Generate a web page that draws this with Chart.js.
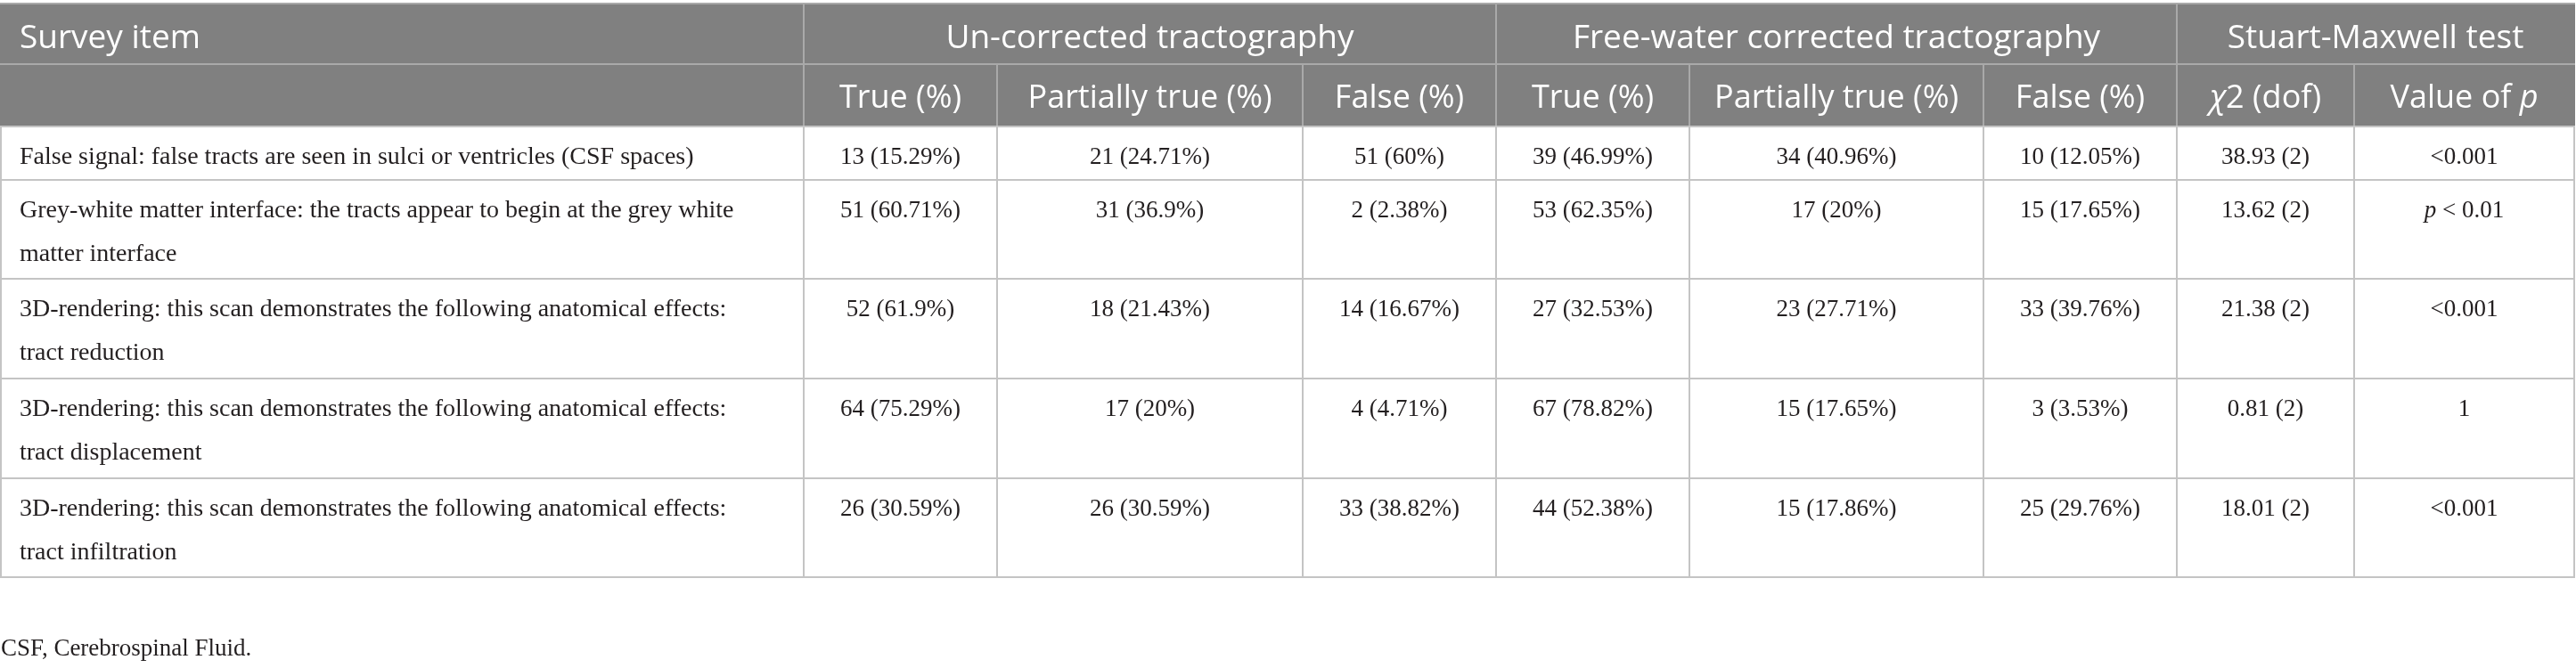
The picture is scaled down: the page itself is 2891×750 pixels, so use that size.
<!DOCTYPE html>
<html>
<head>
<meta charset="utf-8">
<script src="https://cdn.jsdelivr.net/npm/chart.js@4.4.1/dist/chart.umd.min.js"></script>
<style>
html,body{margin:0;padding:0;background:#ffffff;overflow:hidden}
#wrap{position:relative;width:2891px;height:750px}
canvas{display:block}
</style>
</head>
<body>
<div id="wrap"><canvas id="c" width="2891" height="750"></canvas></div>
<script>
// ---------- DATA ----------
const groupHeaders = ["Survey item", "Un-corrected tractography", "Free-water corrected tractography", "Stuart-Maxwell test"];
const columnHeaders = ["", "True (%)", "Partially true (%)", "False (%)", "True (%)", "Partially true (%)", "False (%)", "χ2 (dof)", "Value of p"];
const surveyItems = [
  "False signal: false tracts are seen in sulci or ventricles (CSF spaces)",
  "Grey-white matter interface: the tracts appear to begin at the grey white\nmatter interface",
  "3D-rendering: this scan demonstrates the following anatomical effects:\ntract reduction",
  "3D-rendering: this scan demonstrates the following anatomical effects:\ntract displacement",
  "3D-rendering: this scan demonstrates the following anatomical effects:\ntract infiltration"
];
const uncorrectedTrueN = [13, 51, 52, 64, 26];
const uncorrectedTruePct = [15.29, 60.71, 61.9, 75.29, 30.59];
const uncorrectedPartialN = [21, 31, 18, 17, 26];
const uncorrectedPartialPct = [24.71, 36.9, 21.43, 20, 30.59];
const uncorrectedFalseN = [51, 2, 14, 4, 33];
const uncorrectedFalsePct = [60, 2.38, 16.67, 4.71, 38.82];
const freeWaterTrueN = [39, 53, 27, 67, 44];
const freeWaterTruePct = [46.99, 62.35, 32.53, 78.82, 52.38];
const freeWaterPartialN = [34, 17, 23, 15, 15];
const freeWaterPartialPct = [40.96, 20, 27.71, 17.65, 17.86];
const freeWaterFalseN = [10, 15, 33, 3, 25];
const freeWaterFalsePct = [12.05, 17.65, 39.76, 3.53, 29.76];
const chi2Values = [38.93, 13.62, 21.38, 0.81, 18.01];
const chi2Dof = [2, 2, 2, 2, 2];
const pValues = ["<0.001", "p < 0.01", "<0.001", "1", "<0.001"];
const footnote = "CSF, Cerebrospinal Fluid.";

// ---------- LAYOUT (chart units = canvas px) ----------
const CANVAS_W = 2891, CANVAS_H = 750;
const colEdges = [0, 902, 1119, 1462, 1679, 1896, 2226, 2443, 2642, 2889];
const rowEdges = [4, 72, 142, 202, 313, 425, 537, 648];
const groupSpans = [[0, 1], [1, 4], [4, 7], [7, 9]];
const HEADER_BG = "#808080", HEADER_LINE = "#a9a9a9", BODY_LINE = "#c4c4c4";
const HEADER_TEXT = "#ffffff", BODY_TEXT = "#231f20";
const SANS = '"Open Sans"', SERIF = '"Liberation Serif"';
const GROUP_SIZE = 37, COLHEAD_SIZE = 36, ITEM_SIZE = 28, BODY_SIZE = 27, NOTE_SIZE = 27;

// build table rows from the named arrays
const fmt = (n, p) => n + " (" + p + "%)";
const bodyRows = surveyItems.map((item, i) => [
  item,
  fmt(uncorrectedTrueN[i], uncorrectedTruePct[i]),
  fmt(uncorrectedPartialN[i], uncorrectedPartialPct[i]),
  fmt(uncorrectedFalseN[i], uncorrectedFalsePct[i]),
  fmt(freeWaterTrueN[i], freeWaterTruePct[i]),
  fmt(freeWaterPartialN[i], freeWaterPartialPct[i]),
  fmt(freeWaterFalseN[i], freeWaterFalsePct[i]),
  chi2Values[i] + " (" + chi2Dof[i] + ")",
  pValues[i]
]);

// split text into runs (italic for χ and the stand-alone variable p)
function runs(text) {
  const out = [];
  for (let k = 0; k < text.length; k++) {
    const ch = text[k];
    const prev = text[k - 1] || " ", next = text[k + 1] || " ";
    const it = ch === "χ" || (ch === "p" && !/[A-Za-z]/.test(prev) && !/[A-Za-z]/.test(next));
    if (out.length && out[out.length - 1].it === it) out[out.length - 1].t += ch;
    else out.push({ t: ch, it });
  }
  return out;
}
function drawRich(ctx, text, x, y, family, size, align) {
  const rs = runs(text);
  const fontOf = r => (r.it ? "italic " : "") + size + "px " + family;
  let w = 0;
  rs.forEach(r => { ctx.font = fontOf(r); r.w = ctx.measureText(r.t).width; w += r.w; });
  let cx = align === "center" ? x - w / 2 : x;
  ctx.textAlign = "left";
  rs.forEach(r => { ctx.font = fontOf(r); ctx.fillText(r.t, cx, y); cx += r.w; });
}

const tablePlugin = {
  id: "tablePlugin",
  beforeDatasetsDraw(chart) {
    const ctx = chart.ctx;
    const xs = chart.scales.x, ys = chart.scales.y;
    const X = v => xs.getPixelForValue(v), Y = v => ys.getPixelForValue(v);
    const cx = i => X(colEdges[i]), ry = j => Y(rowEdges[j]);
    const last = colEdges.length - 1;
    ctx.save();
    ctx.textBaseline = "alphabetic";
    // header background
    ctx.fillStyle = HEADER_BG;
    ctx.fillRect(cx(0), ry(0), cx(last) + 1 - cx(0), ry(2) - ry(0));
    // header lines
    ctx.lineWidth = 2;
    ctx.strokeStyle = HEADER_LINE;
    ctx.beginPath();
    ctx.moveTo(cx(0), ry(0)); ctx.lineTo(cx(last) + 1, ry(0));
    ctx.moveTo(cx(0), ry(1)); ctx.lineTo(cx(last) + 1, ry(1));
    groupSpans.forEach((g, k) => { if (k > 0) { ctx.moveTo(cx(g[0]), ry(0)); ctx.lineTo(cx(g[0]), ry(1)); } });
    for (let i = 1; i < last; i++) { ctx.moveTo(cx(i), ry(1)); ctx.lineTo(cx(i), ry(2)); }
    ctx.stroke();
    // body lines
    ctx.strokeStyle = BODY_LINE;
    ctx.beginPath();
    for (let j = 2; j < rowEdges.length; j++) { ctx.moveTo(cx(0), ry(j)); ctx.lineTo(cx(last) + 1, ry(j)); }
    for (let i = 0; i <= last; i++) {
      const xx = i === 0 ? cx(0) + 1 : cx(i);
      ctx.moveTo(xx, ry(2)); ctx.lineTo(xx, ry(rowEdges.length - 1));
    }
    ctx.stroke();
    // group header text
    ctx.fillStyle = HEADER_TEXT;
    groupSpans.forEach((g, k) => {
      const base = ry(0) + 50;
      if (k === 0) drawRich(ctx, groupHeaders[k], cx(0) + 22, base, SANS, GROUP_SIZE, "left");
      else drawRich(ctx, groupHeaders[k], (cx(g[0]) + cx(g[1])) / 2, base, SANS, GROUP_SIZE, "center");
    });
    columnHeaders.forEach((h, i) => {
      if (!h) return;
      drawRich(ctx, h, (cx(i) + cx(i + 1)) / 2, ry(1) + 49, SANS, COLHEAD_SIZE, "center");
    });
    // body text
    ctx.fillStyle = BODY_TEXT;
    bodyRows.forEach((row, j) => {
      const top = ry(j + 2);
      row.forEach((cell, i) => {
        const lines = String(cell).split("\n");
        lines.forEach((ln, l) => {
          const base = top + 42 + l * 49;
          if (i === 0) drawRich(ctx, ln, cx(0) + 22, base, SERIF, ITEM_SIZE, "left");
          else drawRich(ctx, ln, (cx(i) + cx(i + 1)) / 2, base, SERIF, BODY_SIZE, "center");
        });
      });
    });
    // footnote
    drawRich(ctx, footnote, X(1), Y(736), SERIF, NOTE_SIZE, "left");
    ctx.restore();
  }
};

new Chart(document.getElementById("c"), {
  type: "scatter",
  data: { datasets: [{ label: "table", data: [], pointRadius: 0 }] },
  options: {
    responsive: false,
    animation: false,
    devicePixelRatio: 1,
    layout: { padding: 0 },
    scales: {
      x: { type: "linear", min: 0, max: CANVAS_W, display: false },
      y: { type: "linear", min: 0, max: CANVAS_H, reverse: true, display: false }
    },
    plugins: { legend: { display: false }, tooltip: { enabled: false }, title: { display: false } }
  },
  plugins: [tablePlugin]
});
</script>
</body>
</html>
